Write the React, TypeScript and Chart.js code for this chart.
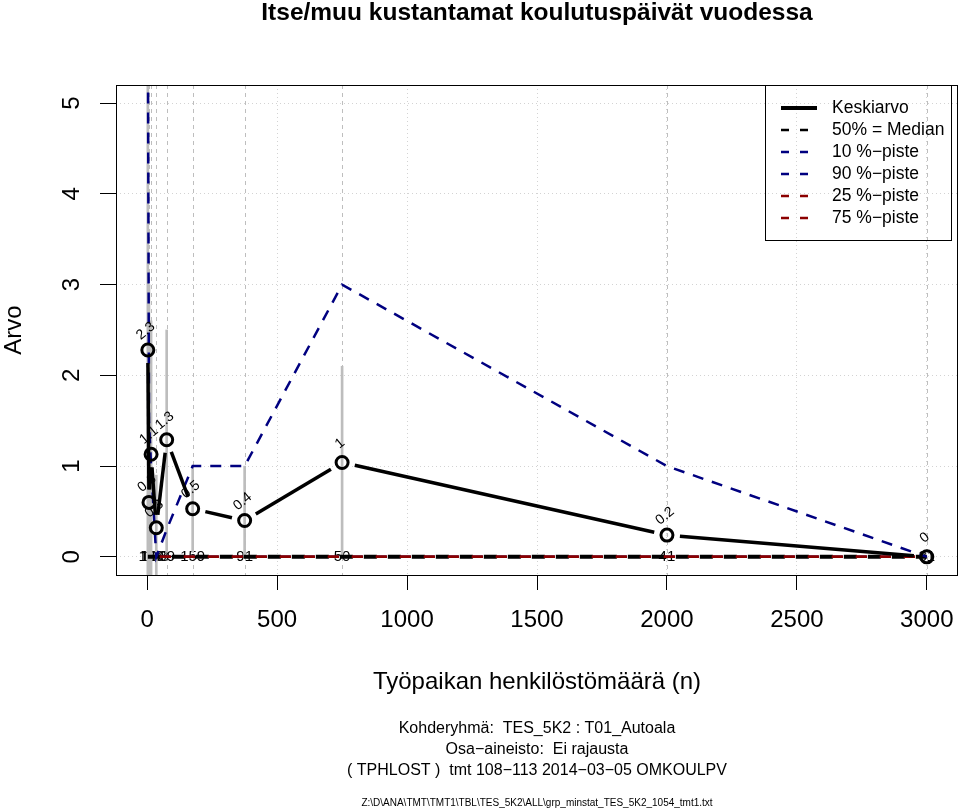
import { useEffect, useRef } from 'react';
import { Chart, registerables } from 'chart.js';

Chart.register(...registerables);

const FONT = '"Liberation Sans", Arial, Helvetica, sans-serif';

const TITLE = 'Itse/muu kustantamat koulutuspäivät vuodessa';
const X_TITLE = 'Työpaikan henkilöstömäärä (n)';
const Y_TITLE = 'Arvo';
const FOOTER_LINES = [
  'Kohderyhmä:  TES_5K2 : T01_Autoala',
  'Osa−aineisto:  Ei rajausta',
  '( TPHLOST )  tmt 108−113 2014−03−05 OMKOULPV',
];
const FILE_PATH = 'Z:\\D\\ANA\\TMT\\TMT1\\TBL\\TES_5K2\\ALL\\grp_minstat_TES_5K2_1054_tmt1.txt';

// workplace size (x) of each class
const X_VALUES = [2.5, 7, 15, 35, 75, 175, 375, 750, 2000, 3000];
// number of respondents per class
const N_LABELS = ['11', '18', '130', '138', '89', '159', '91', '50', '41', '31'];
// series
const MEAN = [2.28, 0.6, 1.13, 0.32, 1.29, 0.53, 0.4, 1.04, 0.24, 0.0];
const MEDIAN = [0, 0, 0, 0, 0, 0, 0, 0, 0, 0];
const P10 = [0, 0, 0, 0, 0, 0, 0, 0, 0, 0];
const P90 = [6, 1.5, 1, 0, 0.3, 1, 1, 3, 1, 0];
const P25 = [0, 0, 0, 0, 0, 0, 0, 0, 0, 0];
const P75 = [0, 0, 0, 0, 0, 0, 0, 0, 0, 0];
// grey range bars
const RANGE_LOW = [-1, -0.5, -0.3, -0.2, 0.05, 0.05, 0.0, 0.0, 0.24, 0];
const RANGE_HIGH = [6, 3.0, 2.6, 0.9, 2.5, 1.0, 1.0, 2.1, 0.24, 0];

const SERIES_LABELS = ['Keskiarvo', '50% = Median', '10 %−piste', '90 %−piste', '25 %−piste', '75 %−piste'];

const X_TICKS = [0, 500, 1000, 1500, 2000, 2500, 3000];
const Y_TICKS = [0, 1, 2, 3, 4, 5];

const NAVY = '#000080';
const DARKRED = '#8B0000';

const pts = (ys: number[]) => X_VALUES.map((x, i) => ({ x, y: ys[i] }));

const fmt = (v: number) => String(Math.round(v * 10) / 10);

const rPlugin = {
  id: 'rstyle',
  beforeDatasetsDraw(chart: any) {
    const { ctx, chartArea, scales } = chart;
    const { left, right, top, bottom } = chartArea;
    const xs = scales.x;
    const ys = scales.y;
    ctx.save();
    ctx.beginPath();
    ctx.rect(left, top, right - left, bottom - top);
    ctx.clip();
    // dashed vertical lines at each class
    ctx.strokeStyle = '#bebebe';
    ctx.lineWidth = 1;
    ctx.setLineDash([4, 4]);
    X_VALUES.forEach((v) => {
      const px = Math.round(xs.getPixelForValue(v)) + 0.5;
      ctx.beginPath();
      ctx.moveTo(px, top);
      ctx.lineTo(px, bottom);
      ctx.stroke();
    });
    ctx.setLineDash([]);
    // counts at y = 0
    ctx.font = `15px ${FONT}`;
    ctx.fillStyle = '#000';
    ctx.textAlign = 'center';
    ctx.textBaseline = 'middle';
    N_LABELS.forEach((t, i) => {
      ctx.fillText(t, xs.getPixelForValue(X_VALUES[i]), ys.getPixelForValue(0));
    });
    ctx.restore();
  },
  afterDatasetsDraw(chart: any) {
    const { ctx, chartArea } = chart;
    const { left, right, top, bottom } = chartArea;
    const meta = chart.getDatasetMeta(0);
    const el = meta.data;
    const GAP = 13;
    ctx.save();
    ctx.beginPath();
    ctx.rect(left, top, right - left, bottom - top);
    ctx.clip();
    ctx.strokeStyle = '#000';
    ctx.lineWidth = 3.5;
    ctx.lineCap = 'butt';
    for (let i = 0; i < el.length - 1; i++) {
      const p = el[i];
      const q = el[i + 1];
      const dx = q.x - p.x;
      const dy = q.y - p.y;
      const d = Math.hypot(dx, dy);
      if (d <= GAP * 2) continue;
      const ux = dx / d;
      const uy = dy / d;
      ctx.beginPath();
      ctx.moveTo(p.x + ux * GAP, p.y + uy * GAP);
      ctx.lineTo(q.x - ux * GAP, q.y - uy * GAP);
      ctx.stroke();
    }
    ctx.restore();
    // value labels
    ctx.save();
    ctx.font = `14px ${FONT}`;
    ctx.fillStyle = '#000';
    ctx.textAlign = 'center';
    ctx.textBaseline = 'middle';
    el.forEach((p: any, i: number) => {
      ctx.save();
      ctx.translate(p.x - 2, p.y - 19);
      ctx.rotate((-40 * Math.PI) / 180);
      ctx.fillText(fmt(MEAN[i]), 0, 0);
      ctx.restore();
    });
    ctx.restore();
  },
  afterDraw(chart: any) {
    const { ctx, chartArea, scales } = chart;
    const { left, right, top, bottom } = chartArea;
    const cx = (left + right) / 2;
    ctx.save();
    // frame
    ctx.strokeStyle = '#000';
    ctx.lineWidth = 1;
    ctx.strokeRect(left + 0.5, top + 0.5, right - left - 1, bottom - top);
    ctx.fillStyle = '#000';
    ctx.textAlign = 'center';
    ctx.textBaseline = 'middle';
    // title
    ctx.font = `bold 24.5px ${FONT}`;
    ctx.fillText(TITLE, cx, 13);
    // y tick labels (rotated, R style)
    ctx.font = `24px ${FONT}`;
    scales.y.ticks.forEach((t: any) => {
      ctx.save();
      ctx.translate(72, scales.y.getPixelForValue(t.value));
      ctx.rotate(-Math.PI / 2);
      ctx.fillText(String(t.value), 0, 0);
      ctx.restore();
    });
    // y title
    ctx.save();
    ctx.translate(14, (top + bottom) / 2);
    ctx.rotate(-Math.PI / 2);
    ctx.fillText(Y_TITLE, 0, 0);
    ctx.restore();
    // x title
    ctx.fillText(X_TITLE, cx, 682);
    // footer
    ctx.font = `16px ${FONT}`;
    FOOTER_LINES.forEach((s, i) => ctx.fillText(s, cx, 729 + i * 21));
    ctx.font = `10px ${FONT}`;
    ctx.fillText(FILE_PATH, cx, 803);
    // legend
    const lx = 765;
    const ly = 85;
    ctx.strokeStyle = '#000';
    ctx.lineWidth = 1;
    ctx.strokeRect(lx + 0.5, ly + 0.5, 186, 155);
    ctx.font = `17.5px ${FONT}`;
    ctx.textAlign = 'left';
    chart.data.datasets.forEach((ds: any, i: number) => {
      if (i > 5) return;
      const yy = 108 + i * 22;
      ctx.save();
      ctx.strokeStyle = ds.borderColor;
      if (i === 0) {
        ctx.lineWidth = 4;
        ctx.setLineDash([]);
      } else {
        ctx.lineWidth = 2.5;
        ctx.setLineDash([8, 11]);
      }
      ctx.beginPath();
      ctx.moveTo(781, yy);
      ctx.lineTo(817, yy);
      ctx.stroke();
      ctx.restore();
      ctx.fillText(ds.label, 832, yy);
    });
    ctx.restore();
  },
};

export default function App() {
  const ref = useRef<HTMLCanvasElement>(null);
  useEffect(() => {
    const canvas = ref.current;
    if (!canvas) return;
    const dashed = (label: string, data: number[], color: string, order: number, width: number, dash: number[], offset = 0) => ({
      type: 'line' as const,
      label,
      data: pts(data),
      borderColor: color,
      backgroundColor: color,
      borderWidth: width,
      borderDash: dash,
      borderDashOffset: offset,
      pointRadius: 0,
      tension: 0,
      fill: false,
      order,
    });
    const chart = new Chart(canvas, {
      type: 'line',
      data: {
        datasets: [
          {
            type: 'line',
            label: SERIES_LABELS[0],
            data: pts(MEAN),
            borderColor: '#000',
            backgroundColor: 'rgba(0,0,0,0)',
            showLine: false,
            pointRadius: 6,
            pointBorderWidth: 3,
            pointBorderColor: '#000',
            pointBackgroundColor: 'rgba(0,0,0,0)',
            order: 0,
          },
          dashed(SERIES_LABELS[1], MEDIAN, '#000', 4, 4, [13, 11]),
          dashed(SERIES_LABELS[2], P10, NAVY, 5, 2.5, [11, 13], 12),
          dashed(SERIES_LABELS[3], P90, NAVY, 3, 2.5, [11, 9]),
          dashed(SERIES_LABELS[4], P25, DARKRED, 2, 2.5, [11, 13], 12),
          dashed(SERIES_LABELS[5], P75, DARKRED, 1, 2.5, [11, 13], 12),
          {
            type: 'bar',
            label: 'range',
            data: X_VALUES.map((x, i) => ({ x, y: [RANGE_LOW[i], RANGE_HIGH[i]] })),
            backgroundColor: '#bdbdbd',
            borderWidth: 0,
            barThickness: 2,
            order: 6,
          } as any,
        ],
      },
      options: {
        responsive: false,
        animation: false,
        devicePixelRatio: 1,
        events: [],
        layout: { autoPadding: false, padding: { left: 0, right: 2, top: 85, bottom: 0 } },
        plugins: {
          legend: { display: false },
          tooltip: { enabled: false },
          title: { display: false },
        },
        scales: {
          x: {
            type: 'linear',
            min: -120,
            max: 3120,
            offset: false,
            afterBuildTicks: (s: any) => {
              s.ticks = X_TICKS.map((v) => ({ value: v }));
            },
            afterFit: (s: any) => {
              s.height = 235;
            },
            grid: {
              offset: false,
              color: '#d3d3d3',
              lineWidth: 1,
              tickLength: 15,
              tickColor: '#000',
              tickWidth: 1,
              tickBorderDash: [],
            },
            border: { display: false, dash: [1, 3] },
            ticks: {
              font: { family: FONT, size: 24, lineHeight: 58 / 24 },
              color: '#000',
              padding: 1,
              maxRotation: 0,
              minRotation: 0,
              autoSkip: false,
              callback: (v: any) => String(v),
            },
          },
          y: {
            type: 'linear',
            min: -0.2,
            max: 5.2,
            offset: false,
            afterBuildTicks: (s: any) => {
              s.ticks = Y_TICKS.map((v) => ({ value: v }));
            },
            afterFit: (s: any) => {
              s.width = 116;
            },
            grid: {
              offset: false,
              color: '#d3d3d3',
              lineWidth: 1,
              tickLength: 16,
              tickColor: '#000',
              tickWidth: 1,
              tickBorderDash: [],
            },
            border: { display: false, dash: [1, 3] },
            ticks: { display: false },
          },
        },
      } as any,
      plugins: [rPlugin],
    } as any);
    return () => chart.destroy();
  }, []);
  return (
    <div style={{ position: 'absolute', left: 0, top: 0, width: 960, height: 810, background: '#fff' }}>
      <canvas ref={ref} width={960} height={810} style={{ display: 'block', width: 960, height: 810 }} />
    </div>
  );
}
